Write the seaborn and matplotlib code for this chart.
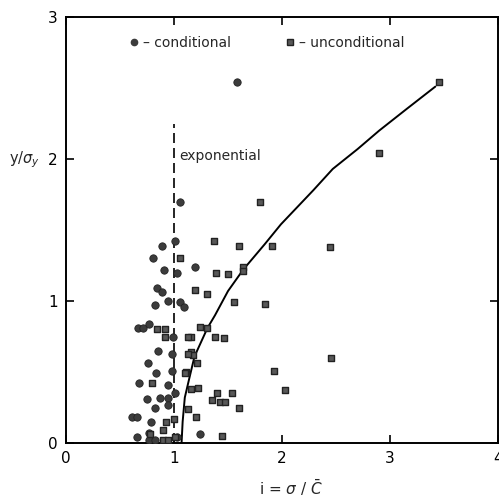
import matplotlib
matplotlib.use("Agg")
import matplotlib.pyplot as plt
from matplotlib.lines import Line2D
import seaborn as sns
import pandas as pd

# conditional (circles)
cond_x = [1.58, 1.06, 0.89, 1.01, 0.81, 0.91, 1.03, 1.19, 0.84, 0.89, 0.94, 0.82,
          1.06, 1.09, 0.67, 0.71, 0.77, 0.85, 0.98, 0.76, 0.83, 0.98, 0.68, 0.94,
          0.87, 0.94, 0.94, 1.01, 0.75, 0.82, 0.61, 0.66, 0.79, 0.66, 0.77, 0.77,
          0.82, 1.03, 1.24, 0.99]
cond_y = [2.54, 1.70, 1.39, 1.42, 1.30, 1.22, 1.20, 1.24, 1.09, 1.06, 1.00, 0.97,
          0.99, 0.96, 0.81, 0.81, 0.84, 0.65, 0.63, 0.56, 0.49, 0.51, 0.42, 0.41,
          0.32, 0.32, 0.27, 0.35, 0.31, 0.25, 0.18, 0.18, 0.15, 0.04, 0.07, 0.02,
          0.02, 0.04, 0.06, 0.75]

# unconditional (squares)
unc_x = [3.45, 2.90, 1.80, 1.37, 1.60, 1.91, 2.44, 1.06, 1.39, 1.50, 1.64, 1.64,
         1.19, 1.31, 1.56, 1.84, 1.24, 1.31, 1.16, 1.38, 1.46, 1.16, 1.18, 1.21,
         1.11, 1.93, 2.45, 1.22, 1.16, 1.40, 1.35, 1.43, 1.47, 1.54, 2.03, 1.60,
         1.13, 1.20, 1.44, 1.00, 0.84, 0.92, 0.92, 1.13, 1.13, 1.10, 0.80, 0.93,
         0.90, 0.90, 0.94, 1.01, 0.78]
unc_y = [2.54, 2.04, 1.70, 1.42, 1.39, 1.39, 1.38, 1.30, 1.20, 1.19, 1.24, 1.21,
         1.08, 1.05, 0.99, 0.98, 0.82, 0.81, 0.75, 0.75, 0.74, 0.64, 0.62, 0.56,
         0.50, 0.51, 0.60, 0.39, 0.38, 0.35, 0.30, 0.29, 0.29, 0.35, 0.37, 0.25,
         0.24, 0.18, 0.05, 0.17, 0.80, 0.80, 0.75, 0.75, 0.63, 0.49, 0.42, 0.15,
         0.09, 0.02, 0.02, 0.04, 0.06]

# solid curve
curve_x = [1.07, 1.08, 1.10, 1.14, 1.19, 1.25, 1.31, 1.38, 1.50, 1.64, 1.84,
           1.99, 2.29, 2.47, 2.70, 2.90, 3.15, 3.42]
curve_y = [0.00, 0.15, 0.32, 0.45, 0.61, 0.71, 0.81, 0.90, 1.07, 1.22, 1.40,
           1.54, 1.78, 1.93, 2.07, 2.20, 2.35, 2.51]

# dashed "exponential" line
exp_x = [1.0, 1.0]
exp_y = [0.0, 2.25]

x_ticks = [0, 1, 2, 3, 4]
y_ticks = [0, 1, 2, 3]

sns.set_style("ticks")
plt.rcParams['font.family'] = ['DejaVu Sans']

fig = plt.figure(figsize=(4.99, 4.98), dpi=100)
ax = fig.add_axes([66 / 499, 1 - 443 / 498, 432 / 499, 426 / 498])

mk_color = "#3c3c3c"
df_c = pd.DataFrame({"x": cond_x, "y": cond_y})
df_u = pd.DataFrame({"x": unc_x, "y": unc_y})
sns.scatterplot(data=df_c, x="x", y="y", marker="o", s=28, color=mk_color,
                edgecolor="#222222", linewidth=0.6, ax=ax, zorder=3)
sns.scatterplot(data=df_u, x="x", y="y", marker="s", s=24, color="#585858",
                edgecolor="#222222", linewidth=1.0, ax=ax, zorder=3)
sns.lineplot(x=curve_x, y=curve_y, color="black", linewidth=1.4, ax=ax,
             sort=False, estimator=None)
ax.plot(exp_x, exp_y, color="black", linewidth=1.2, linestyle=(0, (6, 3)))

ax.text(1.05, 2.02, "exponential", fontsize=10, va="center", ha="left")

ax.set_xlim(0, 4)
ax.set_ylim(0, 3)
ax.set_xticks(x_ticks)
ax.set_yticks(y_ticks)
ax.set_xticklabels([str(t) for t in x_ticks], fontsize=11)
ax.set_yticklabels([str(t) for t in y_ticks], fontsize=11)
ax.tick_params(direction="in", length=6, width=1.2, top=True, right=True,
               pad=6, colors="black")
for sp in ax.spines.values():
    sp.set_linewidth(1.4)
    sp.set_color("black")

ax.set_xlabel(r"i = $\sigma$ / $\bar{C}$", fontsize=11)
ax.xaxis.set_label_coords(0.52, -0.083)
ax.set_ylabel(r"y/$\sigma_y$", fontsize=10.5, rotation=0, ha="center", va="center")
ax.yaxis.set_label_coords(-0.095, 0.665)

handles = [
    Line2D([], [], marker="o", linestyle="", color=mk_color, markersize=4.5),
    Line2D([], [], marker="s", linestyle="", color="#585858",
           markeredgecolor="#222222", markersize=4.5),
]
ax.legend(handles, ["– conditional", "– unconditional"], ncol=2,
          loc="center left", bbox_to_anchor=(0.11, 0.94), frameon=False,
          fontsize=10, handletextpad=0.05, columnspacing=3.6, handlelength=1.2)

fig.savefig("out.png", dpi=100)
